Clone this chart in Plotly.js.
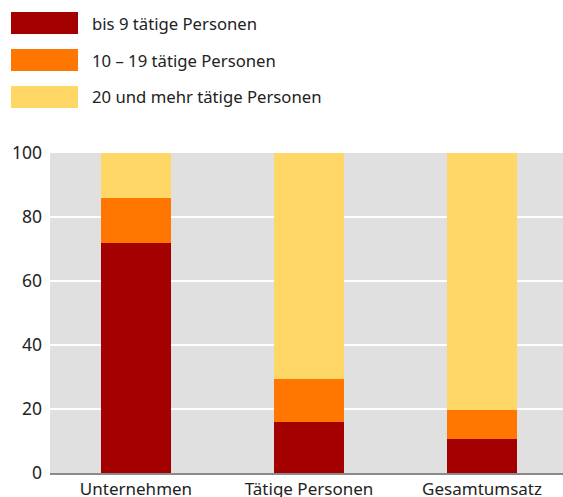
<!DOCTYPE html>
<html>
<head>
<meta charset="utf-8">
<script src="https://cdn.plot.ly/plotly-3.0.1.min.js"></script>
<style>html,body{margin:0;padding:0;background:#fff}#chart{width:563px;height:497px}</style>
</head>
<body>
<div id="chart"></div>
<script>
var categories = ['Unternehmen', 'Tätige Personen', 'Gesamtumsatz'];
var seriesNames = ['bis 9 tätige Personen', '10 – 19 tätige Personen', '20 und mehr tätige Personen'];
var bis9 = [72, 16, 10.6];
var von10bis19 = [14, 13.5, 9.1];
var ab20 = [14, 70.5, 80.3];
var yTicks = [0, 20, 40, 60, 80, 100];

var colors = ['#a50000', '#ff7700', '#fed767'];
var seriesValues = [bis9, von10bis19, ab20];

var W = 563, H = 497, mL = 50, mR = 0, mT = 153, mB = 24;
var pw = W - mL - mR, ph = H - mT - mB;
function px(x) { return (x - mL) / pw; }
function py(y) { return (H - mB - y) / ph; }

var traces = seriesValues.map(function (vals, i) {
  return {
    type: 'bar', x: categories, y: vals, name: seriesNames[i],
    marker: { color: colors[i], line: { width: 0 } },
    width: 0.405, hoverinfo: 'none', showlegend: false
  };
});

var shapes = [], annotations = [];
var rowTop = [12, 49, 86];
seriesNames.forEach(function (n, i) {
  shapes.push({ type: 'rect', xref: 'paper', yref: 'paper', x0: px(11), x1: px(78),
    y0: py(rowTop[i]), y1: py(rowTop[i] + 22), fillcolor: colors[i], line: { width: 0 } });
  annotations.push({ xref: 'paper', yref: 'paper', x: px(90), y: py(rowTop[i] + 11),
    xanchor: 'left', yanchor: 'middle', showarrow: false, text: n,
    font: { family: 'Noto Sans, sans-serif', size: 16.7, color: '#222' } });
});

var layout = {
  width: W, height: H,
  margin: { l: mL, r: mR, t: mT, b: mB, pad: 0 },
  barmode: 'stack',
  paper_bgcolor: '#ffffff', plot_bgcolor: '#e0e0e0',
  font: { family: 'Noto Sans, sans-serif', size: 17, color: '#222' },
  showlegend: false,
  xaxis: { type: 'category', range: [-0.497, 2.468], showgrid: false, zeroline: false,
    showline: true, linecolor: '#8a8a8a', linewidth: 2, ticks: '', ticklen: 0,
    tickfont: { size: 17, color: '#222' }, fixedrange: true },
  yaxis: { range: [0, 100], tickvals: yTicks, ticktext: yTicks.map(String), showgrid: true,
    gridcolor: '#ffffff', gridwidth: 2, zeroline: false, showline: false, ticks: '',
    ticklabelstandoff: 7,
    tickfont: { size: 17.5, color: '#222' }, fixedrange: true },
  shapes: shapes, annotations: annotations
};

Plotly.newPlot('chart', traces, layout, { displayModeBar: false, staticPlot: true });
</script>
</body>
</html>
